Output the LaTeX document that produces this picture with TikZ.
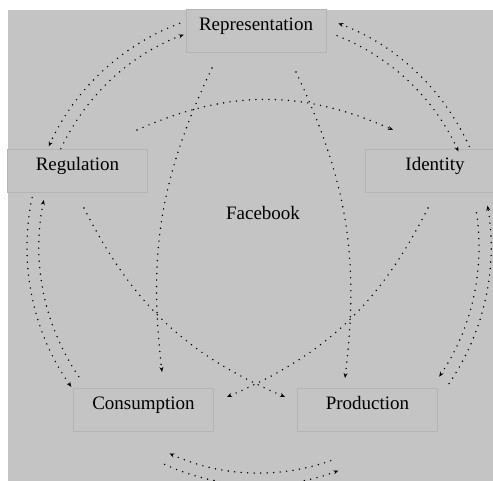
\documentclass[tikz,border=0pt]{standalone}
\usepackage{fontspec}
\setmainfont{Liberation Serif}
\usetikzlibrary{arrows.meta}
\usetikzlibrary{calc}
\definecolor{panelgrey}{HTML}{C4C4C4}
\definecolor{boxgrey}{HTML}{B4B4B4}
\tikzset{
    dotline/.style={line width=1.6pt, dash pattern=on 0pt off 6.5pt, line cap=round},
    tipend/.style={-{Stealth[length=5pt,width=4pt]}},
    tipstart/.style={{Stealth[length=5pt,width=4pt]}-},
    stage/.style={draw=boxgrey, line width=0.6pt, minimum width=140, inner sep=0pt,
        text height=21pt, text depth=22pt, font=\fontsize{19}{22}\selectfont}
}

\begin{document}
\begin{tikzpicture}[x=1pt,y=1pt]
        \clip (0,0) rectangle (493,481);
        \fill[panelgrey] (8,0) rectangle (493,471);

        % the five stages
        \node[stage] (rep) at (256,450) {Representation};
        \node[stage] (reg) at (77.5,310) {Regulation};
        \node[stage] (ide) at (435,310) {Identity};
        \node[stage] (con) at (143.5,71) {Consumption};
        \node[stage] (pro) at (367.5,71) {Production};
        \node[font=\fontsize{19}{22}\selectfont] (fb) at (263,268) {Facebook};

        % outer double arcs
        \coordinate (ctr) at (259,234);
        \foreach \a/\b in {110/155,25/70,168/216,-35/10,246/290} {
            \draw[dotline,tipend] ($(ctr)+(\a:232 and 238)$) arc[start angle=\a, end angle=\b, x radius=232, y radius=238];
            \draw[dotline,tipstart] ($(ctr)+(\a:220 and 226)$) arc[start angle=\a, end angle=\b, x radius=220, y radius=226];
        }

        % inner arcs
        \coordinate (rep-w) at (212,413);
        \coordinate (rep-e) at (296,409);
        \coordinate (reg-e) at (137,351);
        \coordinate (reg-s) at (84,273);
        \coordinate (ide-w) at (393,351);
        \coordinate (ide-s) at (428,273);
        \coordinate (con-n) at (162,109);
        \coordinate (con-e) at (227,84);
        \coordinate (pro-n) at (345,103);
        \coordinate (pro-w) at (285,84);
        \draw[dotline,tipend] (rep-w) to[bend right=16] (con-n);
        \draw[dotline,tipend] (rep-e) to[bend left=16] (pro-n);
        \draw[dotline,tipend] (reg-e) to[bend left=24] (ide-w);
        \draw[dotline,tipend] (reg-s) to[bend right=20] (pro-w);
        \draw[dotline,tipend] (ide-s) to[bend left=20] (con-e);
    \end{tikzpicture}
\end{document}
